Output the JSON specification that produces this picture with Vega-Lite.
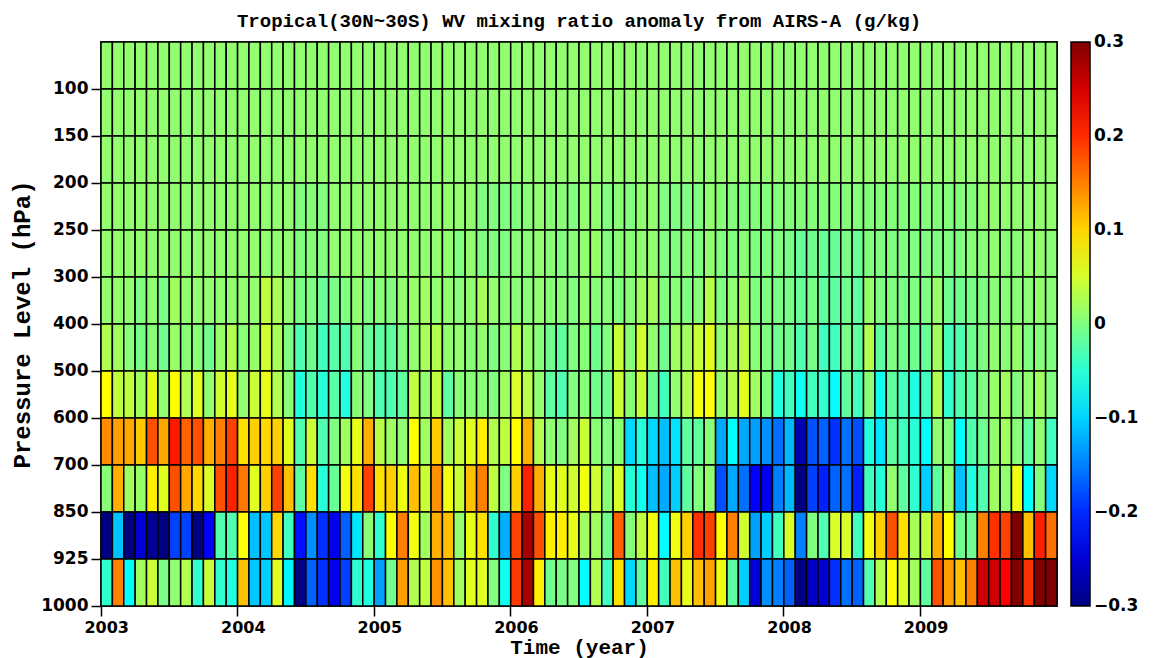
{
  "$schema": "https://vega.github.io/schema/vega-lite/v6.json",
  "width": 956,
  "height": 564,
  "autosize": "none",
  "padding": {"left": 101, "top": 42, "right": 96, "bottom": 52},
  "background": "white",
  "title": {
    "text": "Tropical(30N~30S) WV mixing ratio anomaly from AIRS-A (g/kg)",
    "font": "Liberation Mono",
    "fontSize": 19,
    "fontWeight": "bold",
    "color": "black",
    "anchor": "middle",
    "offset": 10
  },
  "config": {
    "view": {"stroke": "black", "strokeWidth": 1.5},
    "axis": {
      "labelFont": "DejaVu Sans",
      "labelFontSize": 17,
      "labelFontWeight": "bold",
      "labelColor": "black",
      "tickColor": "black",
      "tickWidth": 1.5,
      "domain": false,
      "grid": false,
      "titleFont": "Liberation Mono",
      "titleFontWeight": "bold",
      "titleFontSize": 22,
      "titleColor": "black"
    }
  },
  "data": {
    "values": [
      {"t":"2003-01","p":100,"v":0.01},{"t":"2003-02","p":100,"v":0.01},{"t":"2003-03","p":100,"v":0.01},{"t":"2003-04","p":100,"v":0.01},{"t":"2003-05","p":100,"v":0.01},{"t":"2003-06","p":100,"v":0.01},{"t":"2003-07","p":100,"v":0.01},{"t":"2003-08","p":100,"v":0.01},{"t":"2003-09","p":100,"v":0.01},{"t":"2003-10","p":100,"v":0.01},{"t":"2003-11","p":100,"v":0.01},{"t":"2003-12","p":100,"v":0.01},
      {"t":"2004-01","p":100,"v":0.01},{"t":"2004-02","p":100,"v":0.01},{"t":"2004-03","p":100,"v":0.01},{"t":"2004-04","p":100,"v":0.01},{"t":"2004-05","p":100,"v":0.01},{"t":"2004-06","p":100,"v":0.01},{"t":"2004-07","p":100,"v":0.01},{"t":"2004-08","p":100,"v":0.01},{"t":"2004-09","p":100,"v":0.01},{"t":"2004-10","p":100,"v":0.01},{"t":"2004-11","p":100,"v":0.01},{"t":"2004-12","p":100,"v":0.01},
      {"t":"2005-01","p":100,"v":0.01},{"t":"2005-02","p":100,"v":0.01},{"t":"2005-03","p":100,"v":0.01},{"t":"2005-04","p":100,"v":0.01},{"t":"2005-05","p":100,"v":0.01},{"t":"2005-06","p":100,"v":0.01},{"t":"2005-07","p":100,"v":0.01},{"t":"2005-08","p":100,"v":0.01},{"t":"2005-09","p":100,"v":0.01},{"t":"2005-10","p":100,"v":0.01},{"t":"2005-11","p":100,"v":0.01},{"t":"2005-12","p":100,"v":0.01},
      {"t":"2006-01","p":100,"v":0.01},{"t":"2006-02","p":100,"v":0.01},{"t":"2006-03","p":100,"v":0.01},{"t":"2006-04","p":100,"v":0.01},{"t":"2006-05","p":100,"v":0.01},{"t":"2006-06","p":100,"v":0.01},{"t":"2006-07","p":100,"v":0.01},{"t":"2006-08","p":100,"v":0.01},{"t":"2006-09","p":100,"v":0.01},{"t":"2006-10","p":100,"v":0.01},{"t":"2006-11","p":100,"v":0.01},{"t":"2006-12","p":100,"v":0.01},
      {"t":"2007-01","p":100,"v":0.01},{"t":"2007-02","p":100,"v":0.01},{"t":"2007-03","p":100,"v":0.01},{"t":"2007-04","p":100,"v":0.01},{"t":"2007-05","p":100,"v":0.01},{"t":"2007-06","p":100,"v":0.01},{"t":"2007-07","p":100,"v":0.01},{"t":"2007-08","p":100,"v":0.01},{"t":"2007-09","p":100,"v":0.01},{"t":"2007-10","p":100,"v":0.01},{"t":"2007-11","p":100,"v":0.01},{"t":"2007-12","p":100,"v":0.01},
      {"t":"2008-01","p":100,"v":0.01},{"t":"2008-02","p":100,"v":0.01},{"t":"2008-03","p":100,"v":0.01},{"t":"2008-04","p":100,"v":0.01},{"t":"2008-05","p":100,"v":0.01},{"t":"2008-06","p":100,"v":0.01},{"t":"2008-07","p":100,"v":0.01},{"t":"2008-08","p":100,"v":0.01},{"t":"2008-09","p":100,"v":0.01},{"t":"2008-10","p":100,"v":0.01},{"t":"2008-11","p":100,"v":0.01},{"t":"2008-12","p":100,"v":0.01},
      {"t":"2009-01","p":100,"v":0.01},{"t":"2009-02","p":100,"v":0.01},{"t":"2009-03","p":100,"v":0.01},{"t":"2009-04","p":100,"v":0.01},{"t":"2009-05","p":100,"v":0.01},{"t":"2009-06","p":100,"v":0.01},{"t":"2009-07","p":100,"v":0.01},{"t":"2009-08","p":100,"v":0.01},{"t":"2009-09","p":100,"v":0.01},{"t":"2009-10","p":100,"v":0.01},{"t":"2009-11","p":100,"v":0.01},{"t":"2009-12","p":100,"v":0.01},

      {"t":"2003-01","p":150,"v":0.01},{"t":"2003-02","p":150,"v":0.01},{"t":"2003-03","p":150,"v":0.01},{"t":"2003-04","p":150,"v":0.01},{"t":"2003-05","p":150,"v":0.01},{"t":"2003-06","p":150,"v":0.01},{"t":"2003-07","p":150,"v":0.01},{"t":"2003-08","p":150,"v":0.01},{"t":"2003-09","p":150,"v":0.01},{"t":"2003-10","p":150,"v":0.01},{"t":"2003-11","p":150,"v":0.01},{"t":"2003-12","p":150,"v":0.01},
      {"t":"2004-01","p":150,"v":0.01},{"t":"2004-02","p":150,"v":0.01},{"t":"2004-03","p":150,"v":0.01},{"t":"2004-04","p":150,"v":0.01},{"t":"2004-05","p":150,"v":0.01},{"t":"2004-06","p":150,"v":0.01},{"t":"2004-07","p":150,"v":0.01},{"t":"2004-08","p":150,"v":0.01},{"t":"2004-09","p":150,"v":0.01},{"t":"2004-10","p":150,"v":0.01},{"t":"2004-11","p":150,"v":0.01},{"t":"2004-12","p":150,"v":0.01},
      {"t":"2005-01","p":150,"v":0.01},{"t":"2005-02","p":150,"v":0.01},{"t":"2005-03","p":150,"v":0.01},{"t":"2005-04","p":150,"v":0.01},{"t":"2005-05","p":150,"v":0.01},{"t":"2005-06","p":150,"v":0.01},{"t":"2005-07","p":150,"v":0.01},{"t":"2005-08","p":150,"v":0.01},{"t":"2005-09","p":150,"v":0.01},{"t":"2005-10","p":150,"v":0.01},{"t":"2005-11","p":150,"v":0.01},{"t":"2005-12","p":150,"v":0.01},
      {"t":"2006-01","p":150,"v":0.01},{"t":"2006-02","p":150,"v":0.01},{"t":"2006-03","p":150,"v":0.01},{"t":"2006-04","p":150,"v":0.01},{"t":"2006-05","p":150,"v":0.01},{"t":"2006-06","p":150,"v":0.01},{"t":"2006-07","p":150,"v":0.01},{"t":"2006-08","p":150,"v":0.01},{"t":"2006-09","p":150,"v":0.01},{"t":"2006-10","p":150,"v":0.01},{"t":"2006-11","p":150,"v":0.01},{"t":"2006-12","p":150,"v":0.01},
      {"t":"2007-01","p":150,"v":0.01},{"t":"2007-02","p":150,"v":0.01},{"t":"2007-03","p":150,"v":0.01},{"t":"2007-04","p":150,"v":0.01},{"t":"2007-05","p":150,"v":0.01},{"t":"2007-06","p":150,"v":0.01},{"t":"2007-07","p":150,"v":0.01},{"t":"2007-08","p":150,"v":0.01},{"t":"2007-09","p":150,"v":0.01},{"t":"2007-10","p":150,"v":0.01},{"t":"2007-11","p":150,"v":0.01},{"t":"2007-12","p":150,"v":0.01},
      {"t":"2008-01","p":150,"v":0.01},{"t":"2008-02","p":150,"v":0.01},{"t":"2008-03","p":150,"v":0.01},{"t":"2008-04","p":150,"v":0.01},{"t":"2008-05","p":150,"v":0.01},{"t":"2008-06","p":150,"v":0.01},{"t":"2008-07","p":150,"v":0.01},{"t":"2008-08","p":150,"v":0.01},{"t":"2008-09","p":150,"v":0.01},{"t":"2008-10","p":150,"v":0.01},{"t":"2008-11","p":150,"v":0.01},{"t":"2008-12","p":150,"v":0.01},
      {"t":"2009-01","p":150,"v":0.01},{"t":"2009-02","p":150,"v":0.01},{"t":"2009-03","p":150,"v":0.01},{"t":"2009-04","p":150,"v":0.01},{"t":"2009-05","p":150,"v":0.01},{"t":"2009-06","p":150,"v":0.01},{"t":"2009-07","p":150,"v":0.01},{"t":"2009-08","p":150,"v":0.01},{"t":"2009-09","p":150,"v":0.01},{"t":"2009-10","p":150,"v":0.01},{"t":"2009-11","p":150,"v":0.01},{"t":"2009-12","p":150,"v":0.01},

      {"t":"2003-01","p":200,"v":0.01},{"t":"2003-02","p":200,"v":0.01},{"t":"2003-03","p":200,"v":0.01},{"t":"2003-04","p":200,"v":0.01},{"t":"2003-05","p":200,"v":0.01},{"t":"2003-06","p":200,"v":0.01},{"t":"2003-07","p":200,"v":0.01},{"t":"2003-08","p":200,"v":0.01},{"t":"2003-09","p":200,"v":0.01},{"t":"2003-10","p":200,"v":0.01},{"t":"2003-11","p":200,"v":0.01},{"t":"2003-12","p":200,"v":0.01},
      {"t":"2004-01","p":200,"v":0.01},{"t":"2004-02","p":200,"v":0.01},{"t":"2004-03","p":200,"v":0.01},{"t":"2004-04","p":200,"v":0.01},{"t":"2004-05","p":200,"v":0.01},{"t":"2004-06","p":200,"v":0.01},{"t":"2004-07","p":200,"v":0.01},{"t":"2004-08","p":200,"v":0.01},{"t":"2004-09","p":200,"v":0.01},{"t":"2004-10","p":200,"v":0.01},{"t":"2004-11","p":200,"v":0.01},{"t":"2004-12","p":200,"v":0.01},
      {"t":"2005-01","p":200,"v":0.01},{"t":"2005-02","p":200,"v":0.01},{"t":"2005-03","p":200,"v":0.01},{"t":"2005-04","p":200,"v":0.01},{"t":"2005-05","p":200,"v":0.01},{"t":"2005-06","p":200,"v":0.01},{"t":"2005-07","p":200,"v":0.01},{"t":"2005-08","p":200,"v":0.01},{"t":"2005-09","p":200,"v":0.01},{"t":"2005-10","p":200,"v":0.01},{"t":"2005-11","p":200,"v":0.01},{"t":"2005-12","p":200,"v":0.01},
      {"t":"2006-01","p":200,"v":0.01},{"t":"2006-02","p":200,"v":0.01},{"t":"2006-03","p":200,"v":0.01},{"t":"2006-04","p":200,"v":0.01},{"t":"2006-05","p":200,"v":0.01},{"t":"2006-06","p":200,"v":0.01},{"t":"2006-07","p":200,"v":0.01},{"t":"2006-08","p":200,"v":0.01},{"t":"2006-09","p":200,"v":0.01},{"t":"2006-10","p":200,"v":0.01},{"t":"2006-11","p":200,"v":0.01},{"t":"2006-12","p":200,"v":0.01},
      {"t":"2007-01","p":200,"v":0.01},{"t":"2007-02","p":200,"v":0.01},{"t":"2007-03","p":200,"v":0.01},{"t":"2007-04","p":200,"v":0.01},{"t":"2007-05","p":200,"v":0.01},{"t":"2007-06","p":200,"v":0.01},{"t":"2007-07","p":200,"v":0.01},{"t":"2007-08","p":200,"v":0.01},{"t":"2007-09","p":200,"v":0.01},{"t":"2007-10","p":200,"v":0.01},{"t":"2007-11","p":200,"v":0.01},{"t":"2007-12","p":200,"v":0.01},
      {"t":"2008-01","p":200,"v":0.01},{"t":"2008-02","p":200,"v":0.01},{"t":"2008-03","p":200,"v":0.01},{"t":"2008-04","p":200,"v":0.01},{"t":"2008-05","p":200,"v":0.01},{"t":"2008-06","p":200,"v":0.01},{"t":"2008-07","p":200,"v":0.01},{"t":"2008-08","p":200,"v":0.01},{"t":"2008-09","p":200,"v":0.01},{"t":"2008-10","p":200,"v":0.01},{"t":"2008-11","p":200,"v":0.01},{"t":"2008-12","p":200,"v":0.01},
      {"t":"2009-01","p":200,"v":0.01},{"t":"2009-02","p":200,"v":0.01},{"t":"2009-03","p":200,"v":0.01},{"t":"2009-04","p":200,"v":0.01},{"t":"2009-05","p":200,"v":0.01},{"t":"2009-06","p":200,"v":0.01},{"t":"2009-07","p":200,"v":0.01},{"t":"2009-08","p":200,"v":0.01},{"t":"2009-09","p":200,"v":0.01},{"t":"2009-10","p":200,"v":0.01},{"t":"2009-11","p":200,"v":0.01},{"t":"2009-12","p":200,"v":0.01},

      {"t":"2003-01","p":250,"v":0.01},{"t":"2003-02","p":250,"v":0.01},{"t":"2003-03","p":250,"v":0.01},{"t":"2003-04","p":250,"v":0.01},{"t":"2003-05","p":250,"v":0.01},{"t":"2003-06","p":250,"v":0.01},{"t":"2003-07","p":250,"v":0.01},{"t":"2003-08","p":250,"v":0.01},{"t":"2003-09","p":250,"v":0.01},{"t":"2003-10","p":250,"v":0.01},{"t":"2003-11","p":250,"v":0.01},{"t":"2003-12","p":250,"v":0.01},
      {"t":"2004-01","p":250,"v":0.01},{"t":"2004-02","p":250,"v":0.01},{"t":"2004-03","p":250,"v":0.01},{"t":"2004-04","p":250,"v":0.01},{"t":"2004-05","p":250,"v":0.01},{"t":"2004-06","p":250,"v":0},{"t":"2004-07","p":250,"v":0.005},{"t":"2004-08","p":250,"v":0},{"t":"2004-09","p":250,"v":0.01},{"t":"2004-10","p":250,"v":0.01},{"t":"2004-11","p":250,"v":0.01},{"t":"2004-12","p":250,"v":0.01},
      {"t":"2005-01","p":250,"v":0.01},{"t":"2005-02","p":250,"v":0.01},{"t":"2005-03","p":250,"v":0.01},{"t":"2005-04","p":250,"v":0.01},{"t":"2005-05","p":250,"v":0.01},{"t":"2005-06","p":250,"v":0.01},{"t":"2005-07","p":250,"v":0.01},{"t":"2005-08","p":250,"v":0.01},{"t":"2005-09","p":250,"v":0.01},{"t":"2005-10","p":250,"v":0},{"t":"2005-11","p":250,"v":0},{"t":"2005-12","p":250,"v":0},
      {"t":"2006-01","p":250,"v":0},{"t":"2006-02","p":250,"v":0.005},{"t":"2006-03","p":250,"v":0.01},{"t":"2006-04","p":250,"v":0.005},{"t":"2006-05","p":250,"v":0.005},{"t":"2006-06","p":250,"v":0},{"t":"2006-07","p":250,"v":0.01},{"t":"2006-08","p":250,"v":0.01},{"t":"2006-09","p":250,"v":0},{"t":"2006-10","p":250,"v":0.005},{"t":"2006-11","p":250,"v":0},{"t":"2006-12","p":250,"v":0.01},
      {"t":"2007-01","p":250,"v":0.01},{"t":"2007-02","p":250,"v":0},{"t":"2007-03","p":250,"v":0},{"t":"2007-04","p":250,"v":0},{"t":"2007-05","p":250,"v":0},{"t":"2007-06","p":250,"v":0.01},{"t":"2007-07","p":250,"v":0.005},{"t":"2007-08","p":250,"v":0.002},{"t":"2007-09","p":250,"v":0.002},{"t":"2007-10","p":250,"v":0.002},{"t":"2007-11","p":250,"v":0.002},{"t":"2007-12","p":250,"v":0.002},
      {"t":"2008-01","p":250,"v":0.002},{"t":"2008-02","p":250,"v":0.002},{"t":"2008-03","p":250,"v":0.002},{"t":"2008-04","p":250,"v":0.002},{"t":"2008-05","p":250,"v":0.002},{"t":"2008-06","p":250,"v":0.002},{"t":"2008-07","p":250,"v":0.002},{"t":"2008-08","p":250,"v":0.002},{"t":"2008-09","p":250,"v":0.002},{"t":"2008-10","p":250,"v":0.002},{"t":"2008-11","p":250,"v":0.002},{"t":"2008-12","p":250,"v":0.002},
      {"t":"2009-01","p":250,"v":0.002},{"t":"2009-02","p":250,"v":0.002},{"t":"2009-03","p":250,"v":0.002},{"t":"2009-04","p":250,"v":0.002},{"t":"2009-05","p":250,"v":0.002},{"t":"2009-06","p":250,"v":0.01},{"t":"2009-07","p":250,"v":0.01},{"t":"2009-08","p":250,"v":0.01},{"t":"2009-09","p":250,"v":0.01},{"t":"2009-10","p":250,"v":0.01},{"t":"2009-11","p":250,"v":0.01},{"t":"2009-12","p":250,"v":0.01},

      {"t":"2003-01","p":300,"v":0.01},{"t":"2003-02","p":300,"v":0.01},{"t":"2003-03","p":300,"v":0.01},{"t":"2003-04","p":300,"v":0.01},{"t":"2003-05","p":300,"v":0.01},{"t":"2003-06","p":300,"v":0.01},{"t":"2003-07","p":300,"v":0.01},{"t":"2003-08","p":300,"v":0.01},{"t":"2003-09","p":300,"v":0.01},{"t":"2003-10","p":300,"v":0.01},{"t":"2003-11","p":300,"v":0.01},{"t":"2003-12","p":300,"v":0.01},
      {"t":"2004-01","p":300,"v":0.01},{"t":"2004-02","p":300,"v":0.01},{"t":"2004-03","p":300,"v":0.01},{"t":"2004-04","p":300,"v":0.01},{"t":"2004-05","p":300,"v":0.01},{"t":"2004-06","p":300,"v":0},{"t":"2004-07","p":300,"v":0.005},{"t":"2004-08","p":300,"v":0},{"t":"2004-09","p":300,"v":0.01},{"t":"2004-10","p":300,"v":0.01},{"t":"2004-11","p":300,"v":0.01},{"t":"2004-12","p":300,"v":0.01},
      {"t":"2005-01","p":300,"v":0.01},{"t":"2005-02","p":300,"v":0.01},{"t":"2005-03","p":300,"v":0.01},{"t":"2005-04","p":300,"v":0.01},{"t":"2005-05","p":300,"v":0.01},{"t":"2005-06","p":300,"v":0.01},{"t":"2005-07","p":300,"v":0.01},{"t":"2005-08","p":300,"v":0},{"t":"2005-09","p":300,"v":0.01},{"t":"2005-10","p":300,"v":0},{"t":"2005-11","p":300,"v":0},{"t":"2005-12","p":300,"v":0},
      {"t":"2006-01","p":300,"v":0.005},{"t":"2006-02","p":300,"v":0.005},{"t":"2006-03","p":300,"v":0.01},{"t":"2006-04","p":300,"v":0.005},{"t":"2006-05","p":300,"v":0},{"t":"2006-06","p":300,"v":0.005},{"t":"2006-07","p":300,"v":0.01},{"t":"2006-08","p":300,"v":0.014},{"t":"2006-09","p":300,"v":0},{"t":"2006-10","p":300,"v":0.005},{"t":"2006-11","p":300,"v":0.005},{"t":"2006-12","p":300,"v":0.01},
      {"t":"2007-01","p":300,"v":0.01},{"t":"2007-02","p":300,"v":0},{"t":"2007-03","p":300,"v":0},{"t":"2007-04","p":300,"v":0.005},{"t":"2007-05","p":300,"v":0},{"t":"2007-06","p":300,"v":0.01},{"t":"2007-07","p":300,"v":0},{"t":"2007-08","p":300,"v":0},{"t":"2007-09","p":300,"v":0.005},{"t":"2007-10","p":300,"v":0},{"t":"2007-11","p":300,"v":0},{"t":"2007-12","p":300,"v":0},
      {"t":"2008-01","p":300,"v":-0.004},{"t":"2008-02","p":300,"v":-0.014},{"t":"2008-03","p":300,"v":-0.009},{"t":"2008-04","p":300,"v":-0.014},{"t":"2008-05","p":300,"v":-0.014},{"t":"2008-06","p":300,"v":-0.004},{"t":"2008-07","p":300,"v":-0.014},{"t":"2008-08","p":300,"v":0},{"t":"2008-09","p":300,"v":0},{"t":"2008-10","p":300,"v":0},{"t":"2008-11","p":300,"v":0},{"t":"2008-12","p":300,"v":0},
      {"t":"2009-01","p":300,"v":0},{"t":"2009-02","p":300,"v":0},{"t":"2009-03","p":300,"v":0},{"t":"2009-04","p":300,"v":0},{"t":"2009-05","p":300,"v":0.005},{"t":"2009-06","p":300,"v":0.005},{"t":"2009-07","p":300,"v":0.01},{"t":"2009-08","p":300,"v":0.005},{"t":"2009-09","p":300,"v":0.005},{"t":"2009-10","p":300,"v":0.01},{"t":"2009-11","p":300,"v":0.01},{"t":"2009-12","p":300,"v":0.005},

      {"t":"2003-01","p":400,"v":0.01},{"t":"2003-02","p":400,"v":0.01},{"t":"2003-03","p":400,"v":0.01},{"t":"2003-04","p":400,"v":0},{"t":"2003-05","p":400,"v":0.01},{"t":"2003-06","p":400,"v":-0.004},{"t":"2003-07","p":400,"v":0.019},{"t":"2003-08","p":400,"v":0.01},{"t":"2003-09","p":400,"v":0.01},{"t":"2003-10","p":400,"v":0.01},{"t":"2003-11","p":400,"v":0.01},{"t":"2003-12","p":400,"v":0.01},
      {"t":"2004-01","p":400,"v":0.01},{"t":"2004-02","p":400,"v":0.01},{"t":"2004-03","p":400,"v":0.038},{"t":"2004-04","p":400,"v":0.024},{"t":"2004-05","p":400,"v":0.01},{"t":"2004-06","p":400,"v":-0.004},{"t":"2004-07","p":400,"v":0},{"t":"2004-08","p":400,"v":-0.014},{"t":"2004-09","p":400,"v":-0.004},{"t":"2004-10","p":400,"v":0},{"t":"2004-11","p":400,"v":0.01},{"t":"2004-12","p":400,"v":0},
      {"t":"2005-01","p":400,"v":0.005},{"t":"2005-02","p":400,"v":0},{"t":"2005-03","p":400,"v":0.01},{"t":"2005-04","p":400,"v":0.014},{"t":"2005-05","p":400,"v":0.019},{"t":"2005-06","p":400,"v":0.01},{"t":"2005-07","p":400,"v":0.01},{"t":"2005-08","p":400,"v":0.005},{"t":"2005-09","p":400,"v":0.01},{"t":"2005-10","p":400,"v":0.024},{"t":"2005-11","p":400,"v":0.01},{"t":"2005-12","p":400,"v":0.005},
      {"t":"2006-01","p":400,"v":0.005},{"t":"2006-02","p":400,"v":0.005},{"t":"2006-03","p":400,"v":0.01},{"t":"2006-04","p":400,"v":0.005},{"t":"2006-05","p":400,"v":0.005},{"t":"2006-06","p":400,"v":0},{"t":"2006-07","p":400,"v":0.01},{"t":"2006-08","p":400,"v":0.005},{"t":"2006-09","p":400,"v":0.005},{"t":"2006-10","p":400,"v":0},{"t":"2006-11","p":400,"v":0.005},{"t":"2006-12","p":400,"v":0.019},
      {"t":"2007-01","p":400,"v":0.019},{"t":"2007-02","p":400,"v":0},{"t":"2007-03","p":400,"v":0.005},{"t":"2007-04","p":400,"v":0},{"t":"2007-05","p":400,"v":0.005},{"t":"2007-06","p":400,"v":0.033},{"t":"2007-07","p":400,"v":0},{"t":"2007-08","p":400,"v":0.01},{"t":"2007-09","p":400,"v":0.019},{"t":"2007-10","p":400,"v":0},{"t":"2007-11","p":400,"v":0},{"t":"2007-12","p":400,"v":-0.004},
      {"t":"2008-01","p":400,"v":-0.004},{"t":"2008-02","p":400,"v":-0.014},{"t":"2008-03","p":400,"v":-0.004},{"t":"2008-04","p":400,"v":-0.019},{"t":"2008-05","p":400,"v":-0.019},{"t":"2008-06","p":400,"v":-0.009},{"t":"2008-07","p":400,"v":-0.019},{"t":"2008-08","p":400,"v":0.014},{"t":"2008-09","p":400,"v":0},{"t":"2008-10","p":400,"v":0},{"t":"2008-11","p":400,"v":-0.004},{"t":"2008-12","p":400,"v":0},
      {"t":"2009-01","p":400,"v":0},{"t":"2009-02","p":400,"v":0.014},{"t":"2009-03","p":400,"v":-0.009},{"t":"2009-04","p":400,"v":-0.009},{"t":"2009-05","p":400,"v":-0.004},{"t":"2009-06","p":400,"v":0},{"t":"2009-07","p":400,"v":0.005},{"t":"2009-08","p":400,"v":0.005},{"t":"2009-09","p":400,"v":0.005},{"t":"2009-10","p":400,"v":0.005},{"t":"2009-11","p":400,"v":0.01},{"t":"2009-12","p":400,"v":0.005},

      {"t":"2003-01","p":500,"v":0.029},{"t":"2003-02","p":500,"v":0.019},{"t":"2003-03","p":500,"v":0.005},{"t":"2003-04","p":500,"v":-0.004},{"t":"2003-05","p":500,"v":0.005},{"t":"2003-06","p":500,"v":-0.009},{"t":"2003-07","p":500,"v":0.014},{"t":"2003-08","p":500,"v":0.005},{"t":"2003-09","p":500,"v":0.005},{"t":"2003-10","p":500,"v":-0.009},{"t":"2003-11","p":500,"v":0.014},{"t":"2003-12","p":500,"v":0.029},
      {"t":"2004-01","p":500,"v":0.005},{"t":"2004-02","p":500,"v":0.014},{"t":"2004-03","p":500,"v":0.047},{"t":"2004-04","p":500,"v":0.024},{"t":"2004-05","p":500,"v":0},{"t":"2004-06","p":500,"v":-0.028},{"t":"2004-07","p":500,"v":-0.009},{"t":"2004-08","p":500,"v":-0.037},{"t":"2004-09","p":500,"v":-0.024},{"t":"2004-10","p":500,"v":-0.028},{"t":"2004-11","p":500,"v":0.005},{"t":"2004-12","p":500,"v":-0.014},
      {"t":"2005-01","p":500,"v":-0.019},{"t":"2005-02","p":500,"v":-0.019},{"t":"2005-03","p":500,"v":0},{"t":"2005-04","p":500,"v":0.01},{"t":"2005-05","p":500,"v":0.024},{"t":"2005-06","p":500,"v":0.029},{"t":"2005-07","p":500,"v":0.01},{"t":"2005-08","p":500,"v":0.01},{"t":"2005-09","p":500,"v":0.005},{"t":"2005-10","p":500,"v":0.01},{"t":"2005-11","p":500,"v":0},{"t":"2005-12","p":500,"v":0.005},
      {"t":"2006-01","p":500,"v":0.029},{"t":"2006-02","p":500,"v":0.014},{"t":"2006-03","p":500,"v":0.005},{"t":"2006-04","p":500,"v":-0.009},{"t":"2006-05","p":500,"v":-0.019},{"t":"2006-06","p":500,"v":0},{"t":"2006-07","p":500,"v":0.005},{"t":"2006-08","p":500,"v":-0.009},{"t":"2006-09","p":500,"v":0},{"t":"2006-10","p":500,"v":0.043},{"t":"2006-11","p":500,"v":0.005},{"t":"2006-12","p":500,"v":0.047},
      {"t":"2007-01","p":500,"v":0.01},{"t":"2007-02","p":500,"v":-0.009},{"t":"2007-03","p":500,"v":0.019},{"t":"2007-04","p":500,"v":0.019},{"t":"2007-05","p":500,"v":0.043},{"t":"2007-06","p":500,"v":0.057},{"t":"2007-07","p":500,"v":0.01},{"t":"2007-08","p":500,"v":0.024},{"t":"2007-09","p":500,"v":0.035},{"t":"2007-10","p":500,"v":0.005},{"t":"2007-11","p":500,"v":0},{"t":"2007-12","p":500,"v":-0.009},
      {"t":"2008-01","p":500,"v":-0.009},{"t":"2008-02","p":500,"v":-0.028},{"t":"2008-03","p":500,"v":-0.004},{"t":"2008-04","p":500,"v":-0.037},{"t":"2008-05","p":500,"v":-0.037},{"t":"2008-06","p":500,"v":-0.004},{"t":"2008-07","p":500,"v":-0.019},{"t":"2008-08","p":500,"v":0.029},{"t":"2008-09","p":500,"v":-0.019},{"t":"2008-10","p":500,"v":0},{"t":"2008-11","p":500,"v":-0.009},{"t":"2008-12","p":500,"v":-0.009},
      {"t":"2009-01","p":500,"v":-0.014},{"t":"2009-02","p":500,"v":0.019},{"t":"2009-03","p":500,"v":-0.033},{"t":"2009-04","p":500,"v":-0.028},{"t":"2009-05","p":500,"v":-0.009},{"t":"2009-06","p":500,"v":0},{"t":"2009-07","p":500,"v":0.01},{"t":"2009-08","p":500,"v":0.005},{"t":"2009-09","p":500,"v":0.014},{"t":"2009-10","p":500,"v":0},{"t":"2009-11","p":500,"v":0.005},{"t":"2009-12","p":500,"v":0},

      {"t":"2003-01","p":600,"v":0.075},{"t":"2003-02","p":600,"v":0.038},{"t":"2003-03","p":600,"v":0.038},{"t":"2003-04","p":600,"v":0.019},{"t":"2003-05","p":600,"v":0.061},{"t":"2003-06","p":600,"v":0.01},{"t":"2003-07","p":600,"v":0.075},{"t":"2003-08","p":600,"v":0.029},{"t":"2003-09","p":600,"v":0.057},{"t":"2003-10","p":600,"v":0.01},{"t":"2003-11","p":600,"v":0.047},{"t":"2003-12","p":600,"v":0.061},
      {"t":"2004-01","p":600,"v":0.01},{"t":"2004-02","p":600,"v":0.043},{"t":"2004-03","p":600,"v":0.061},{"t":"2004-04","p":600,"v":0.029},{"t":"2004-05","p":600,"v":0.005},{"t":"2004-06","p":600,"v":-0.056},{"t":"2004-07","p":600,"v":-0.028},{"t":"2004-08","p":600,"v":-0.052},{"t":"2004-09","p":600,"v":-0.024},{"t":"2004-10","p":600,"v":-0.056},{"t":"2004-11","p":600,"v":0.005},{"t":"2004-12","p":600,"v":0},
      {"t":"2005-01","p":600,"v":-0.028},{"t":"2005-02","p":600,"v":-0.028},{"t":"2005-03","p":600,"v":-0.019},{"t":"2005-04","p":600,"v":0.038},{"t":"2005-05","p":600,"v":0.01},{"t":"2005-06","p":600,"v":0.038},{"t":"2005-07","p":600,"v":-0.019},{"t":"2005-08","p":600,"v":0.005},{"t":"2005-09","p":600,"v":0.005},{"t":"2005-10","p":600,"v":0.005},{"t":"2005-11","p":600,"v":0},{"t":"2005-12","p":600,"v":0.019},
      {"t":"2006-01","p":600,"v":0.052},{"t":"2006-02","p":600,"v":0.033},{"t":"2006-03","p":600,"v":0.01},{"t":"2006-04","p":600,"v":-0.019},{"t":"2006-05","p":600,"v":-0.028},{"t":"2006-06","p":600,"v":0},{"t":"2006-07","p":600,"v":0.005},{"t":"2006-08","p":600,"v":-0.009},{"t":"2006-09","p":600,"v":-0.009},{"t":"2006-10","p":600,"v":0.043},{"t":"2006-11","p":600,"v":0.005},{"t":"2006-12","p":600,"v":0.043},
      {"t":"2007-01","p":600,"v":-0.009},{"t":"2007-02","p":600,"v":-0.037},{"t":"2007-03","p":600,"v":0.01},{"t":"2007-04","p":600,"v":0.029},{"t":"2007-05","p":600,"v":0.066},{"t":"2007-06","p":600,"v":0.075},{"t":"2007-07","p":600,"v":0.014},{"t":"2007-08","p":600,"v":0.029},{"t":"2007-09","p":600,"v":0.057},{"t":"2007-10","p":600,"v":0.019},{"t":"2007-11","p":600,"v":0},{"t":"2007-12","p":600,"v":-0.056},
      {"t":"2008-01","p":600,"v":-0.037},{"t":"2008-02","p":600,"v":-0.066},{"t":"2008-03","p":600,"v":-0.037},{"t":"2008-04","p":600,"v":-0.047},{"t":"2008-05","p":600,"v":-0.075},{"t":"2008-06","p":600,"v":-0.019},{"t":"2008-07","p":600,"v":-0.037},{"t":"2008-08","p":600,"v":0.005},{"t":"2008-09","p":600,"v":-0.066},{"t":"2008-10","p":600,"v":-0.019},{"t":"2008-11","p":600,"v":-0.037},{"t":"2008-12","p":600,"v":-0.056},
      {"t":"2009-01","p":600,"v":-0.037},{"t":"2009-02","p":600,"v":0.029},{"t":"2009-03","p":600,"v":-0.047},{"t":"2009-04","p":600,"v":-0.028},{"t":"2009-05","p":600,"v":-0.019},{"t":"2009-06","p":600,"v":0},{"t":"2009-07","p":600,"v":0.014},{"t":"2009-08","p":600,"v":0.019},{"t":"2009-09","p":600,"v":0},{"t":"2009-10","p":600,"v":0.01},{"t":"2009-11","p":600,"v":0.019},{"t":"2009-12","p":600,"v":0},

      {"t":"2003-01","p":700,"v":0.143},{"t":"2003-02","p":700,"v":0.131},{"t":"2003-03","p":700,"v":0.126},{"t":"2003-04","p":700,"v":0.107},{"t":"2003-05","p":700,"v":0.178},{"t":"2003-06","p":700,"v":0.126},{"t":"2003-07","p":700,"v":0.211},{"t":"2003-08","p":700,"v":0.168},{"t":"2003-09","p":700,"v":0.178},{"t":"2003-10","p":700,"v":0.122},{"t":"2003-11","p":700,"v":0.15},{"t":"2003-12","p":700,"v":0.187},
      {"t":"2004-01","p":700,"v":0.093},{"t":"2004-02","p":700,"v":0.103},{"t":"2004-03","p":700,"v":0.098},{"t":"2004-04","p":700,"v":0.103},{"t":"2004-05","p":700,"v":0.057},{"t":"2004-06","p":700,"v":-0.028},{"t":"2004-07","p":700,"v":0.043},{"t":"2004-08","p":700,"v":-0.028},{"t":"2004-09","p":700,"v":0},{"t":"2004-10","p":700,"v":0.019},{"t":"2004-11","p":700,"v":0.061},{"t":"2004-12","p":700,"v":0.122},
      {"t":"2005-01","p":700,"v":0.033},{"t":"2005-02","p":700,"v":0.019},{"t":"2005-03","p":700,"v":0.01},{"t":"2005-04","p":700,"v":0.075},{"t":"2005-05","p":700,"v":0.019},{"t":"2005-06","p":700,"v":0.103},{"t":"2005-07","p":700,"v":0.019},{"t":"2005-08","p":700,"v":0.043},{"t":"2005-09","p":700,"v":0.057},{"t":"2005-10","p":700,"v":0.084},{"t":"2005-11","p":700,"v":0.029},{"t":"2005-12","p":700,"v":0.038},
      {"t":"2006-01","p":700,"v":0.075},{"t":"2006-02","p":700,"v":0.122},{"t":"2006-03","p":700,"v":0.029},{"t":"2006-04","p":700,"v":0.01},{"t":"2006-05","p":700,"v":0},{"t":"2006-06","p":700,"v":0.019},{"t":"2006-07","p":700,"v":0.043},{"t":"2006-08","p":700,"v":0.005},{"t":"2006-09","p":700,"v":0},{"t":"2006-10","p":700,"v":0.005},{"t":"2006-11","p":700,"v":-0.098},{"t":"2006-12","p":700,"v":-0.052},
      {"t":"2007-01","p":700,"v":-0.098},{"t":"2007-02","p":700,"v":-0.112},{"t":"2007-03","p":700,"v":-0.09},{"t":"2007-04","p":700,"v":-0.019},{"t":"2007-05","p":700,"v":-0.019},{"t":"2007-06","p":700,"v":0.005},{"t":"2007-07","p":700,"v":-0.126},{"t":"2007-08","p":700,"v":-0.075},{"t":"2007-09","p":700,"v":-0.126},{"t":"2007-10","p":700,"v":-0.131},{"t":"2007-11","p":700,"v":-0.14},{"t":"2007-12","p":700,"v":-0.159},
      {"t":"2008-01","p":700,"v":-0.117},{"t":"2008-02","p":700,"v":-0.27},{"t":"2008-03","p":700,"v":-0.178},{"t":"2008-04","p":700,"v":-0.168},{"t":"2008-05","p":700,"v":-0.197},{"t":"2008-06","p":700,"v":-0.159},{"t":"2008-07","p":700,"v":-0.178},{"t":"2008-08","p":700,"v":-0.056},{"t":"2008-09","p":700,"v":-0.09},{"t":"2008-10","p":700,"v":-0.019},{"t":"2008-11","p":700,"v":-0.037},{"t":"2008-12","p":700,"v":-0.052},
      {"t":"2009-01","p":700,"v":-0.075},{"t":"2009-02","p":700,"v":0.01},{"t":"2009-03","p":700,"v":0},{"t":"2009-04","p":700,"v":-0.075},{"t":"2009-05","p":700,"v":-0.028},{"t":"2009-06","p":700,"v":-0.009},{"t":"2009-07","p":700,"v":0.01},{"t":"2009-08","p":700,"v":0.019},{"t":"2009-09","p":700,"v":0.005},{"t":"2009-10","p":700,"v":-0.019},{"t":"2009-11","p":700,"v":0.01},{"t":"2009-12","p":700,"v":-0.037},

      {"t":"2003-01","p":850,"v":0.005},{"t":"2003-02","p":850,"v":0.122},{"t":"2003-03","p":850,"v":0.019},{"t":"2003-04","p":850,"v":0.014},{"t":"2003-05","p":850,"v":0.084},{"t":"2003-06","p":850,"v":0.057},{"t":"2003-07","p":850,"v":0.178},{"t":"2003-08","p":850,"v":0.126},{"t":"2003-09","p":850,"v":0.098},{"t":"2003-10","p":850,"v":0.052},{"t":"2003-11","p":850,"v":0.178},{"t":"2003-12","p":850,"v":0.206},
      {"t":"2004-01","p":850,"v":0.154},{"t":"2004-02","p":850,"v":0.057},{"t":"2004-03","p":850,"v":0.103},{"t":"2004-04","p":850,"v":0.187},{"t":"2004-05","p":850,"v":0.112},{"t":"2004-06","p":850,"v":-0.019},{"t":"2004-07","p":850,"v":0.093},{"t":"2004-08","p":850,"v":-0.052},{"t":"2004-09","p":850,"v":-0.014},{"t":"2004-10","p":850,"v":0.066},{"t":"2004-11","p":850,"v":0.093},{"t":"2004-12","p":850,"v":0.187},
      {"t":"2005-01","p":850,"v":0.093},{"t":"2005-02","p":850,"v":0.103},{"t":"2005-03","p":850,"v":0.066},{"t":"2005-04","p":850,"v":0.112},{"t":"2005-05","p":850,"v":0.043},{"t":"2005-06","p":850,"v":0.14},{"t":"2005-07","p":850,"v":0.066},{"t":"2005-08","p":850,"v":0.043},{"t":"2005-09","p":850,"v":0.112},{"t":"2005-10","p":850,"v":0.15},{"t":"2005-11","p":850,"v":0.038},{"t":"2005-12","p":850,"v":0},
      {"t":"2006-01","p":850,"v":0.103},{"t":"2006-02","p":850,"v":0.206},{"t":"2006-03","p":850,"v":0.122},{"t":"2006-04","p":850,"v":0.061},{"t":"2006-05","p":850,"v":0.057},{"t":"2006-06","p":850,"v":0.047},{"t":"2006-07","p":850,"v":0.066},{"t":"2006-08","p":850,"v":0.047},{"t":"2006-09","p":850,"v":0.005},{"t":"2006-10","p":850,"v":0.052},{"t":"2006-11","p":850,"v":-0.052},{"t":"2006-12","p":850,"v":-0.066},
      {"t":"2007-01","p":850,"v":-0.112},{"t":"2007-02","p":850,"v":-0.126},{"t":"2007-03","p":850,"v":-0.103},{"t":"2007-04","p":850,"v":-0.019},{"t":"2007-05","p":850,"v":0},{"t":"2007-06","p":850,"v":0.01},{"t":"2007-07","p":850,"v":-0.178},{"t":"2007-08","p":850,"v":-0.126},{"t":"2007-09","p":850,"v":-0.159},{"t":"2007-10","p":850,"v":-0.225},{"t":"2007-11","p":850,"v":-0.234},{"t":"2007-12","p":850,"v":-0.15},
      {"t":"2008-01","p":850,"v":-0.117},{"t":"2008-02","p":850,"v":-0.3},{"t":"2008-03","p":850,"v":-0.187},{"t":"2008-04","p":850,"v":-0.206},{"t":"2008-05","p":850,"v":-0.168},{"t":"2008-06","p":850,"v":-0.159},{"t":"2008-07","p":850,"v":-0.206},{"t":"2008-08","p":850,"v":-0.037},{"t":"2008-09","p":850,"v":-0.052},{"t":"2008-10","p":850,"v":0.01},{"t":"2008-11","p":850,"v":-0.019},{"t":"2008-12","p":850,"v":-0.047},
      {"t":"2009-01","p":850,"v":-0.103},{"t":"2009-02","p":850,"v":-0.019},{"t":"2009-03","p":850,"v":0.01},{"t":"2009-04","p":850,"v":-0.112},{"t":"2009-05","p":850,"v":-0.056},{"t":"2009-06","p":850,"v":-0.028},{"t":"2009-07","p":850,"v":0.019},{"t":"2009-08","p":850,"v":0.01},{"t":"2009-09","p":850,"v":0.066},{"t":"2009-10","p":850,"v":-0.075},{"t":"2009-11","p":850,"v":0},{"t":"2009-12","p":850,"v":-0.098},

      {"t":"2003-01","p":925,"v":-0.3},{"t":"2003-02","p":925,"v":-0.112},{"t":"2003-03","p":925,"v":-0.3},{"t":"2003-04","p":925,"v":-0.25},{"t":"2003-05","p":925,"v":-0.29},{"t":"2003-06","p":925,"v":-0.3},{"t":"2003-07","p":925,"v":-0.187},{"t":"2003-08","p":925,"v":-0.187},{"t":"2003-09","p":925,"v":-0.3},{"t":"2003-10","p":925,"v":-0.225},{"t":"2003-11","p":925,"v":-0.028},{"t":"2003-12","p":925,"v":-0.028},
      {"t":"2004-01","p":925,"v":0.075},{"t":"2004-02","p":925,"v":-0.112},{"t":"2004-03","p":925,"v":-0.108},{"t":"2004-04","p":925,"v":0.098},{"t":"2004-05","p":925,"v":-0.037},{"t":"2004-06","p":925,"v":-0.216},{"t":"2004-07","p":925,"v":-0.14},{"t":"2004-08","p":925,"v":-0.197},{"t":"2004-09","p":925,"v":-0.234},{"t":"2004-10","p":925,"v":-0.168},{"t":"2004-11","p":925,"v":-0.089},{"t":"2004-12","p":925,"v":0.005},
      {"t":"2005-01","p":925,"v":-0.047},{"t":"2005-02","p":925,"v":0.075},{"t":"2005-03","p":925,"v":0.15},{"t":"2005-04","p":925,"v":0.066},{"t":"2005-05","p":925,"v":0.019},{"t":"2005-06","p":925,"v":0.122},{"t":"2005-07","p":925,"v":0.112},{"t":"2005-08","p":925,"v":0.01},{"t":"2005-09","p":925,"v":0.061},{"t":"2005-10","p":925,"v":0.093},{"t":"2005-11","p":925,"v":-0.047},{"t":"2005-12","p":925,"v":-0.122},
      {"t":"2006-01","p":925,"v":0.187},{"t":"2006-02","p":925,"v":0.277},{"t":"2006-03","p":925,"v":0.178},{"t":"2006-04","p":925,"v":0.084},{"t":"2006-05","p":925,"v":0.084},{"t":"2006-06","p":925,"v":0.061},{"t":"2006-07","p":925,"v":0.019},{"t":"2006-08","p":925,"v":0.019},{"t":"2006-09","p":925,"v":-0.009},{"t":"2006-10","p":925,"v":0.168},{"t":"2006-11","p":925,"v":0.005},{"t":"2006-12","p":925,"v":0.038},
      {"t":"2007-01","p":925,"v":0.066},{"t":"2007-02","p":925,"v":-0.075},{"t":"2007-03","p":925,"v":0.066},{"t":"2007-04","p":925,"v":0.103},{"t":"2007-05","p":925,"v":0.197},{"t":"2007-06","p":925,"v":0.187},{"t":"2007-07","p":925,"v":0.075},{"t":"2007-08","p":925,"v":0.15},{"t":"2007-09","p":925,"v":0.047},{"t":"2007-10","p":925,"v":-0.131},{"t":"2007-11","p":925,"v":-0.103},{"t":"2007-12","p":925,"v":-0.037},
      {"t":"2008-01","p":925,"v":0.052},{"t":"2008-02","p":925,"v":-0.15},{"t":"2008-03","p":925,"v":0},{"t":"2008-04","p":925,"v":-0.028},{"t":"2008-05","p":925,"v":0.052},{"t":"2008-06","p":925,"v":0.052},{"t":"2008-07","p":925,"v":-0.037},{"t":"2008-08","p":925,"v":0.066},{"t":"2008-09","p":925,"v":0.103},{"t":"2008-10","p":925,"v":0.178},{"t":"2008-11","p":925,"v":0.093},{"t":"2008-12","p":925,"v":0.024},
      {"t":"2009-01","p":925,"v":0.038},{"t":"2009-02","p":925,"v":0.122},{"t":"2009-03","p":925,"v":0.075},{"t":"2009-04","p":925,"v":-0.009},{"t":"2009-05","p":925,"v":-0.009},{"t":"2009-06","p":925,"v":0.15},{"t":"2009-07","p":925,"v":0.197},{"t":"2009-08","p":925,"v":0.187},{"t":"2009-09","p":925,"v":0.3},{"t":"2009-10","p":925,"v":0.112},{"t":"2009-11","p":925,"v":0.206},{"t":"2009-12","p":925,"v":0.159},

      {"t":"2003-01","p":1000,"v":-0.047},{"t":"2003-02","p":1000,"v":0.15},{"t":"2003-03","p":1000,"v":-0.075},{"t":"2003-04","p":1000,"v":0.019},{"t":"2003-05","p":1000,"v":0.043},{"t":"2003-06","p":1000,"v":-0.004},{"t":"2003-07","p":1000,"v":0.01},{"t":"2003-08","p":1000,"v":0.029},{"t":"2003-09","p":1000,"v":-0.047},{"t":"2003-10","p":1000,"v":0.043},{"t":"2003-11","p":1000,"v":-0.047},{"t":"2003-12","p":1000,"v":-0.056},
      {"t":"2004-01","p":1000,"v":0.112},{"t":"2004-02","p":1000,"v":-0.108},{"t":"2004-03","p":1000,"v":-0.103},{"t":"2004-04","p":1000,"v":0.057},{"t":"2004-05","p":1000,"v":-0.08},{"t":"2004-06","p":1000,"v":-0.3},{"t":"2004-07","p":1000,"v":-0.168},{"t":"2004-08","p":1000,"v":-0.197},{"t":"2004-09","p":1000,"v":-0.234},{"t":"2004-10","p":1000,"v":-0.187},{"t":"2004-11","p":1000,"v":-0.047},{"t":"2004-12","p":1000,"v":-0.056},
      {"t":"2005-01","p":1000,"v":-0.131},{"t":"2005-02","p":1000,"v":-0.009},{"t":"2005-03","p":1000,"v":0.131},{"t":"2005-04","p":1000,"v":0.029},{"t":"2005-05","p":1000,"v":0.038},{"t":"2005-06","p":1000,"v":0.14},{"t":"2005-07","p":1000,"v":0.112},{"t":"2005-08","p":1000,"v":0.019},{"t":"2005-09","p":1000,"v":0.057},{"t":"2005-10","p":1000,"v":0.057},{"t":"2005-11","p":1000,"v":0},{"t":"2005-12","p":1000,"v":-0.066},
      {"t":"2006-01","p":1000,"v":0.192},{"t":"2006-02","p":1000,"v":0.277},{"t":"2006-03","p":1000,"v":0.084},{"t":"2006-04","p":1000,"v":-0.009},{"t":"2006-05","p":1000,"v":-0.004},{"t":"2006-06","p":1000,"v":0},{"t":"2006-07","p":1000,"v":-0.075},{"t":"2006-08","p":1000,"v":0.029},{"t":"2006-09","p":1000,"v":-0.037},{"t":"2006-10","p":1000,"v":0.093},{"t":"2006-11","p":1000,"v":-0.098},{"t":"2006-12","p":1000,"v":-0.019},
      {"t":"2007-01","p":1000,"v":0.084},{"t":"2007-02","p":1000,"v":-0.037},{"t":"2007-03","p":1000,"v":0.112},{"t":"2007-04","p":1000,"v":0.061},{"t":"2007-05","p":1000,"v":0.112},{"t":"2007-06","p":1000,"v":0.131},{"t":"2007-07","p":1000,"v":0.066},{"t":"2007-08","p":1000,"v":-0.019},{"t":"2007-09","p":1000,"v":-0.103},{"t":"2007-10","p":1000,"v":-0.247},{"t":"2007-11","p":1000,"v":-0.14},{"t":"2007-12","p":1000,"v":-0.15},
      {"t":"2008-01","p":1000,"v":-0.168},{"t":"2008-02","p":1000,"v":-0.3},{"t":"2008-03","p":1000,"v":-0.26},{"t":"2008-04","p":1000,"v":-0.25},{"t":"2008-05","p":1000,"v":-0.197},{"t":"2008-06","p":1000,"v":-0.159},{"t":"2008-07","p":1000,"v":-0.168},{"t":"2008-08","p":1000,"v":-0.028},{"t":"2008-09","p":1000,"v":0.029},{"t":"2008-10","p":1000,"v":0.075},{"t":"2008-11","p":1000,"v":0.052},{"t":"2008-12","p":1000,"v":0.019},
      {"t":"2009-01","p":1000,"v":-0.019},{"t":"2009-02","p":1000,"v":0.178},{"t":"2009-03","p":1000,"v":0.131},{"t":"2009-04","p":1000,"v":0.112},{"t":"2009-05","p":1000,"v":0.15},{"t":"2009-06","p":1000,"v":0.253},{"t":"2009-07","p":1000,"v":0.253},{"t":"2009-08","p":1000,"v":0.225},{"t":"2009-09","p":1000,"v":0.3},{"t":"2009-10","p":1000,"v":0.197},{"t":"2009-11","p":1000,"v":0.3},{"t":"2009-12","p":1000,"v":0.3}
    ]
  },
  "mark": {"type": "rect", "stroke": "black", "strokeWidth": 1.5},
  "encoding": {
    "x": {
      "field": "t",
      "type": "ordinal",
      "scale": {"paddingInner": 0, "paddingOuter": 0},
      "axis": {
        "values": ["2003-01", "2004-01", "2005-01", "2006-01", "2007-01", "2008-01", "2009-01"],
        "bandPosition": 0,
        "labelExpr": "substring(datum.label, 0, 4)",
        "labelAngle": 0,
        "labelAlign": "center",
        "labelBaseline": "top",
        "labelFontSize": 16,
        "tickSize": 10,
        "labelPadding": 3,
        "title": "Time (year)",
        "titleFontSize": 21,
        "titleY": 47,
        "titleBaseline": "alphabetic"
      }
    },
    "y": {
      "field": "p",
      "type": "ordinal",
      "scale": {"paddingInner": 0, "paddingOuter": 0},
      "axis": {
        "bandPosition": 1,
        "labelOffset": 23.5,
        "tickSize": 10,
        "labelPadding": 3,
        "title": "Pressure Level (hPa)",
        "titleFontSize": 24,
        "titleX": -79,
        "titleBaseline": "middle"
      }
    },
    "color": {
      "field": "v",
      "type": "quantitative",
      "scale": {
        "domain": [-0.3, -0.225, -0.075, 0.075, 0.225, 0.3],
        "range": ["#000080", "#0000ff", "#00ffff", "#ffff00", "#ff0000", "#800000"],
        "interpolate": "rgb",
        "clamp": true
      },
      "legend": {
        "orient": "none",
        "legendX": 970,
        "legendY": 0,
        "direction": "vertical",
        "title": null,
        "gradientLength": 564,
        "gradientThickness": 19,
        "gradientStrokeColor": "black",
        "gradientStrokeWidth": 1.5,
        "values": [-0.3, -0.2, -0.1, 0, 0.1, 0.2, 0.3],
        "format": ".1~f",
        "labelFont": "DejaVu Sans",
        "labelFontSize": 17,
        "labelFontWeight": "bold",
        "labelColor": "black",
        "labelOffset": 4,
        "labelOverlap": false,
        "encode": {"labels": {"update": {"baseline": {"value": "middle"}}}}
      }
    }
  }
}
